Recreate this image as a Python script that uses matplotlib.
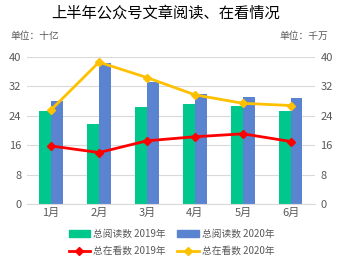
import matplotlib.pyplot as plt
import numpy as np
from matplotlib.lines import Line2D
from matplotlib.patches import Patch

plt.rcParams['font.family'] = ['Noto Sans CJK SC', 'DejaVu Sans']

months = ['1月', '2月', '3月', '4月', '5月', '6月']
read_2019 = [25.4, 21.8, 26.5, 27.1, 26.7, 25.4]
read_2020 = [28.0, 38.3, 33.3, 30.0, 29.1, 28.8]
watch_2019 = [15.8, 14.0, 17.2, 18.3, 19.1, 17.0]
watch_2020 = [25.6, 38.6, 34.4, 29.7, 27.4, 26.8]
ticks = [0, 8, 16, 24, 32, 40]

green = '#00C78C'
blue = '#5B84D0'
red = '#FF0000'
yellow = '#FFC000'
grey = '#595959'

fig = plt.figure(figsize=(3.43, 2.62), dpi=100)
ax = fig.add_axes([0.0787, 0.2214, 0.8396, 0.561])
ax2 = ax.twinx()

x = np.arange(len(months))
w = 0.24
ax.bar(x - w / 2, read_2019, w, color=green, zorder=2)
ax.bar(x + w / 2, read_2020, w, color=blue, zorder=2)

ax2.plot(x, watch_2019, color=red, lw=2, marker='D', ms=4, zorder=3)
ax2.plot(x, watch_2020, color=yellow, lw=2, marker='D', ms=4, zorder=3)

for a in (ax, ax2):
    a.set_ylim(0, 40)
    a.set_yticks(ticks)
    a.set_xlim(-0.5, 5.5)
    for s in a.spines.values():
        s.set_visible(False)
    a.tick_params(length=0, labelsize=8, colors=grey, pad=4)

ax.set_xticks(x)
ax.set_xticklabels(months)
ax.tick_params(axis='x', pad=3)
ax.grid(axis='y', color='#D9D9D9', lw=0.8, zorder=0)
ax.set_axisbelow(True)
ax.spines['bottom'].set_visible(True)
ax.spines['bottom'].set_color('#D9D9D9')

fig.text(0.482, 0.95, '上半年公众号文章阅读、在看情况', ha='center', va='center',
         fontsize=11, color='black')
fig.text(0.03, 0.862, '单位：十亿', ha='left', va='center', fontsize=7, color=grey)
fig.text(0.958, 0.862, '单位：千万', ha='right', va='center', fontsize=7, color=grey)

handles = [
    Patch(color=green, label='总阅读数 2019年'),
    Line2D([], [], color=red, lw=2, marker='D', ms=4, label='总在看数 2019年'),
    Patch(color=blue, label='总阅读数 2020年'),
    Line2D([], [], color=yellow, lw=2, marker='D', ms=4, label='总在看数 2020年'),
]
fig.legend(handles=handles, ncol=2, loc='center', bbox_to_anchor=(0.5, 0.074),
           frameon=False, fontsize=7, labelcolor=grey, handlelength=2.2,
           handleheight=0.6, handletextpad=0.3, columnspacing=1.2,
           labelspacing=0.75, borderpad=0)

fig.savefig('out.png', dpi=100)
